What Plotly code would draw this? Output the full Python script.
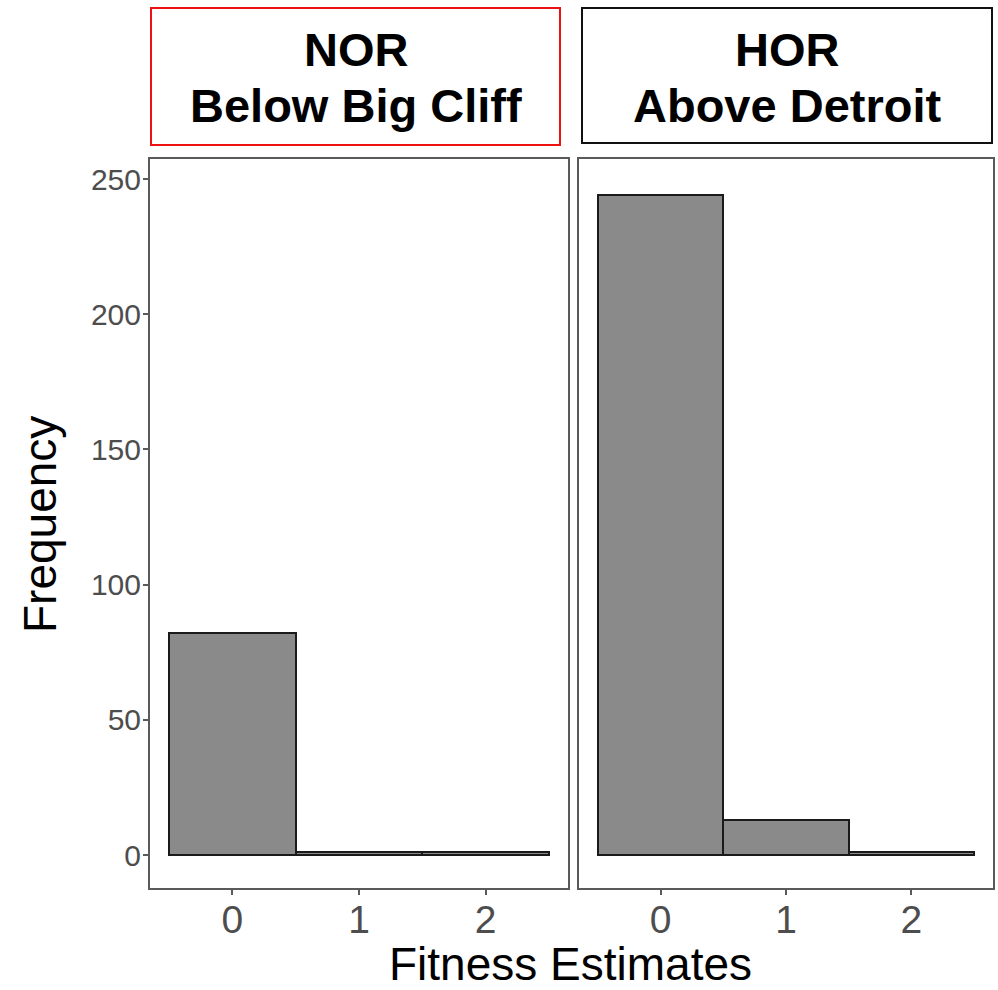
import plotly.graph_objects as go

W, H = 998, 990

# Data
categories = [0, 1, 2]
nor_below_big_cliff = [82, 1, 1]
hor_above_detroit = [244, 13, 1]
panel_titles = [["NOR", "Below Big Cliff"], ["HOR", "Above Detroit"]]
y_ticks = [0, 50, 100, 150, 200, 250]
x_title = "Fitness Estimates"
y_title = "Frequency"

def px(x):
    return x / W

def py(y):
    return 1 - y / H

fig = go.Figure()

bar_style = dict(marker=dict(color="#8a8a8a", line=dict(color="#1a1a1a", width=2)),
                 width=1.0, showlegend=False, hoverinfo="x+y")
fig.add_trace(go.Bar(x=categories, y=nor_below_big_cliff, xaxis="x", yaxis="y", **bar_style))
fig.add_trace(go.Bar(x=categories, y=hor_above_detroit, xaxis="x2", yaxis="y2", **bar_style))

frame = "#5a5a5a"
tickfont_x = dict(family="Liberation Sans, Arial, sans-serif", size=39, color="#4d4d4d")
tickfont_y = dict(family="Liberation Sans, Arial, sans-serif", size=30, color="#4d4d4d")

xcommon = dict(range=[-0.65, 2.65], tickmode="array", tickvals=categories,
               ticktext=[str(c) for c in categories], ticks="outside", ticklen=5,
               tickwidth=2, tickcolor=frame, showline=True, linecolor=frame, linewidth=2,
               mirror=True, showgrid=False, zeroline=False, tickfont=tickfont_x,
               ticklabelstandoff=-9, fixedrange=True)
ycommon = dict(range=[-12.2, 257.4], showline=True, linecolor=frame, linewidth=2,
               mirror=True, showgrid=False, zeroline=False, fixedrange=True)

fig.update_layout(
    width=W, height=H,
    margin=dict(l=0, r=0, t=0, b=0),
    paper_bgcolor="white", plot_bgcolor="white",
    bargap=0,
    xaxis=dict(domain=[px(150), px(568)], anchor="y", **xcommon),
    xaxis2=dict(domain=[px(579), px(993)], anchor="y2", **xcommon),
    yaxis=dict(domain=[py(888), py(159)], anchor="x", tickmode="array", tickvals=y_ticks,
               ticktext=[str(t) for t in y_ticks], ticks="outside", ticklen=5, tickwidth=2,
               tickcolor=frame, tickfont=tickfont_y, ticklabelstandoff=-4, **ycommon),
    yaxis2=dict(domain=[py(888), py(159)], anchor="x2", showticklabels=False, ticks="", **ycommon),
    font=dict(family="Liberation Sans, Arial, sans-serif"),
)

# strip boxes
fig.add_shape(type="rect", xref="paper", yref="paper", x0=px(151), x1=px(560), y0=py(145), y1=py(8),
              line=dict(color="#ee1111", width=2), fillcolor="white", layer="below")
fig.add_shape(type="rect", xref="paper", yref="paper", x0=px(582), x1=px(992), y0=py(143), y1=py(8),
              line=dict(color="#111111", width=2), fillcolor="white", layer="below")

strip_font = dict(family="Liberation Sans, Arial, sans-serif", size=47, color="black")
for cx, lines in zip([356, 787], panel_titles):
    for cy, line in zip([50, 105], lines):
        fig.add_annotation(text="<b>" + line + "</b>", xref="paper", yref="paper",
                           x=px(cx), y=py(cy), showarrow=False, font=strip_font,
                           xanchor="center", yanchor="middle")

title_font = dict(family="Liberation Sans, Arial, sans-serif", size=46, color="black")
fig.add_annotation(text=x_title, xref="paper", yref="paper", x=px(570), y=py(964),
                   showarrow=False, font=title_font, xanchor="center", yanchor="middle")
fig.add_annotation(text=y_title, xref="paper", yref="paper", x=px(40), y=py(525),
                   showarrow=False, font=title_font, xanchor="center", yanchor="middle",
                   textangle=-90)

fig.write_html("out.html")
